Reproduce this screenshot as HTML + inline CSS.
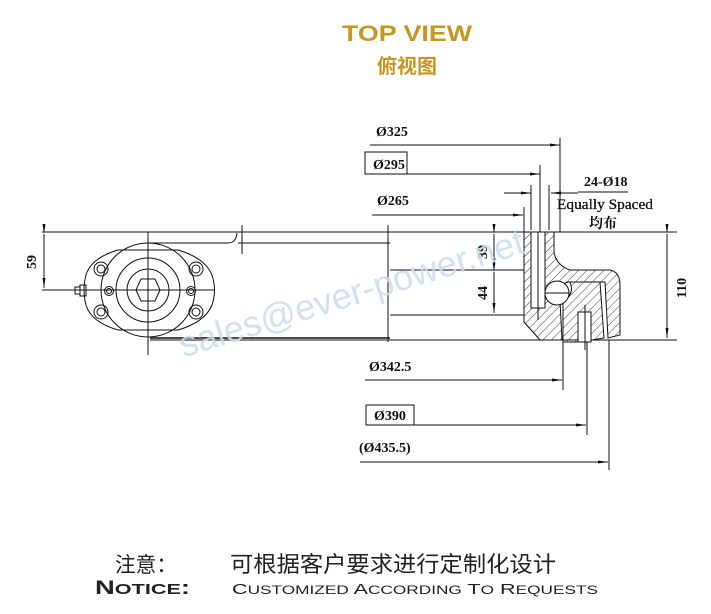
<!DOCTYPE html>
<html><head><meta charset="utf-8"><style>
html,body{margin:0;padding:0;background:#fff;}
svg{display:block;}
</style></head><body>
<svg width="711" height="614" viewBox="0 0 711 614" xmlns="http://www.w3.org/2000/svg" font-family="'Liberation Serif','Noto Serif CJK SC',serif">
<defs>
<pattern id="h" width="6" height="6" patternUnits="userSpaceOnUse" patternTransform="rotate(45)">
<line x1="0" y1="0" x2="0" y2="6" stroke="#222" stroke-width="0.9"/>
</pattern>
<marker id="a" markerWidth="10" markerHeight="6" refX="10" refY="3" orient="auto" markerUnits="userSpaceOnUse"><path d="M0,1.5 L10,3 L0,4.5z" fill="#111"/></marker>
</defs>

<text x="342" y="41" textLength="130" lengthAdjust="spacingAndGlyphs" font-family="'Liberation Sans',sans-serif" font-weight="bold" font-size="22" fill="#c8961e">TOP VIEW</text>
<text x="407" y="73" text-anchor="middle" font-family="'Liberation Sans','Noto Sans CJK SC',sans-serif" font-weight="bold" font-size="20" fill="#c8961e">俯视图</text>

<g stroke="#111" stroke-width="1" fill="none">
<line x1="42" y1="232" x2="677" y2="232"/>
<line x1="148" y1="243" x2="228" y2="243"/>
<path d="M228,243 Q236,243 237,233"/>
<line x1="238" y1="243" x2="390" y2="243"/>
<line x1="242" y1="225" x2="242" y2="254"/>
<line x1="388" y1="225" x2="388" y2="342"/>
<line x1="390" y1="270" x2="524" y2="270"/>
<line x1="390" y1="315" x2="524" y2="315"/>
<line x1="150" y1="340" x2="677" y2="340"/>
<line x1="150" y1="338" x2="390" y2="338" stroke-width="1.5"/>
<line x1="42" y1="290" x2="215" y2="290"/>
<line x1="148" y1="232" x2="148" y2="355"/>
<line x1="44" y1="234" x2="44" y2="288" marker-start="url(#a)" marker-end="url(#a)"/>
<line x1="494" y1="234" x2="494" y2="268" marker-start="url(#a)" marker-end="url(#a)"/>
<line x1="494" y1="272" x2="494" y2="313" marker-start="url(#a)" marker-end="url(#a)"/>
<line x1="667" y1="234" x2="667" y2="338" marker-start="url(#a)" marker-end="url(#a)"/>

<path d="M118,250 L178,250 Q205,258 212,275 Q217,290 212,305 Q205,322 178,330 L118,330 Q91,322 86,305 Q82,290 86,275 Q91,258 118,250z"/>
<circle cx="148" cy="290" r="47"/>
<circle cx="148" cy="290" r="32"/>
<circle cx="148" cy="290" r="21"/>
<polygon points="141,279 155,279 160,290 155,301 141,301 136,290"/>
<circle cx="101" cy="269" r="7"/><circle cx="101" cy="269" r="4"/>
<circle cx="196" cy="269" r="7"/><circle cx="196" cy="269" r="4"/>
<circle cx="101" cy="312" r="7"/><circle cx="101" cy="312" r="4"/>
<circle cx="196" cy="312" r="7"/><circle cx="196" cy="312" r="4"/>
<circle cx="109" cy="291" r="4.5"/><circle cx="109" cy="291" r="2.5"/>
<circle cx="191" cy="291" r="4.5"/><circle cx="191" cy="291" r="2.5"/>
<rect x="80" y="285" width="6" height="11"/>
<rect x="75" y="287" width="5" height="7"/>
<line x1="100" y1="290" x2="118" y2="290"/>

<line x1="370" y1="145" x2="560" y2="145" marker-end="url(#a)"/>
<line x1="560" y1="138" x2="560" y2="232"/>
<rect x="365" y="152" width="42" height="22"/>
<line x1="407" y1="174" x2="540" y2="174" marker-end="url(#a)"/>
<line x1="540" y1="165" x2="540" y2="236"/>
<line x1="504" y1="193" x2="531" y2="193" marker-end="url(#a)"/>
<line x1="578" y1="193" x2="551" y2="193" marker-end="url(#a)"/>
<line x1="578" y1="192" x2="628" y2="192"/>
<line x1="531" y1="185" x2="531" y2="230"/>
<line x1="549" y1="185" x2="549" y2="230"/>
<line x1="372" y1="215" x2="523" y2="215" marker-end="url(#a)"/>
<line x1="524" y1="207" x2="524" y2="232"/>
<line x1="365" y1="380" x2="562" y2="380" marker-end="url(#a)"/>
<line x1="563" y1="340" x2="563" y2="390"/>
<rect x="366" y="405" width="48" height="20"/>
<line x1="414" y1="425" x2="586" y2="425" marker-end="url(#a)"/>
<line x1="587" y1="340" x2="587" y2="435"/>
<line x1="360" y1="462" x2="608" y2="462" marker-end="url(#a)"/>
<line x1="609" y1="340" x2="609" y2="470"/>
</g>

<g stroke="#111" stroke-width="1">
<path d="M524,232 L554,232 L554,252 Q556,265 570,270 L610,270 Q620,272 620,285 L620,335 L608,338 L605,282 L568,282 L560,285 Q548,290 560,300 L562,340 L540,340 L524,322z" fill="url(#h)"/>
<path d="M563,300 Q575,295 570,282 L600,282 L604,338 L580,342 L563,342z" fill="url(#h)"/>
<rect x="531" y="232" width="14" height="76" fill="#fff"/>
<rect x="578" y="312" width="13" height="30" fill="#fff"/>
<circle cx="557" cy="293" r="12" fill="#fff"/>
<line x1="545" y1="293" x2="569" y2="293"/>
<line x1="538" y1="232" x2="538" y2="320" fill="none"/>
<line x1="585" y1="305" x2="585" y2="350" fill="none"/>
</g>

<g font-size="14" fill="#111" font-weight="bold">
<text x="376" y="136">Ø325</text>
<text x="373" y="169">Ø295</text>
<text x="377" y="205">Ø265</text>
<text x="369" y="371">Ø342.5</text>
<text x="374" y="420">Ø390</text>
<text x="359" y="452">(Ø435.5)</text>
<text x="584" y="186">24-Ø18</text>
<text x="557" y="209" font-size="15" font-weight="normal" stroke="#111" stroke-width="0.3" textLength="96" lengthAdjust="spacingAndGlyphs">Equally Spaced</text>
<text x="589" y="228" font-size="14">均布</text>
<text transform="translate(36,262) rotate(-90)" text-anchor="middle">59</text>
<text transform="translate(487,252) rotate(-90)" text-anchor="middle">39</text>
<text transform="translate(487,293) rotate(-90)" text-anchor="middle">44</text>
<text transform="translate(686,288) rotate(-90)" text-anchor="middle">110</text>
</g>

<text transform="translate(355,305) rotate(-17)" text-anchor="middle" font-family="'Liberation Sans',sans-serif" font-size="36" fill="#c9dcf0" fill-opacity="0.85">sales@ever-power.net</text>

<g font-family="'Liberation Sans','Noto Sans CJK SC',sans-serif" fill="#222">
<text x="115" y="572" font-size="21" textLength="62" lengthAdjust="spacingAndGlyphs">注意：</text>
<text x="230" y="572" font-size="22" textLength="326" lengthAdjust="spacingAndGlyphs">可根据客户要求进行定制化设计</text>
<text x="95" y="594" font-size="19" font-weight="bold" textLength="95" lengthAdjust="spacingAndGlyphs">N<tspan font-size="15">OTICE</tspan>:</text>
<text x="232" y="594" font-size="15" textLength="366" lengthAdjust="spacingAndGlyphs">C<tspan font-size="12">USTOMIZED</tspan> A<tspan font-size="12">CCORDING</tspan> T<tspan font-size="12">O</tspan> R<tspan font-size="12">EQUESTS</tspan></text>
</g>
</svg>
</body></html>
